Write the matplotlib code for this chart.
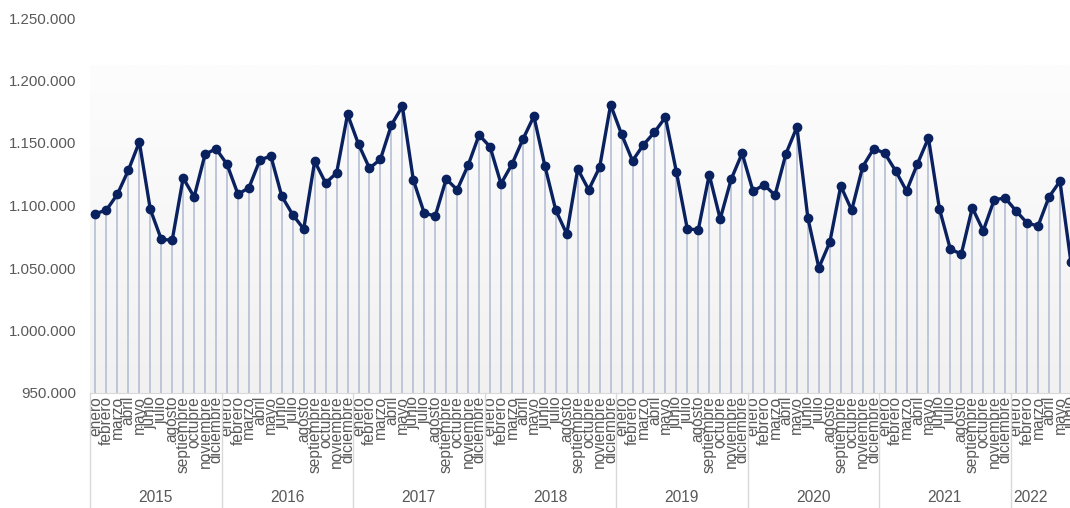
import matplotlib
matplotlib.use("Agg")
import matplotlib.pyplot as plt
import matplotlib.colors as mcolors
import matplotlib.ticker as mticker
import numpy as np

plt.rcParams['font.family'] = ['Liberation Sans', 'DejaVu Sans']

years = ['2015', '2016', '2017', '2018', '2019', '2020', '2021', '2022']
months = ['enero', 'febrero', 'marzo', 'abril', 'mayo', 'junio', 'julio',
          'agosto', 'septiembre', 'octubre', 'noviembre', 'diciembre']

values = [
    # 2015
    1093400, 1096400, 1109000, 1128200, 1150800, 1097000,
    1073000, 1072200, 1122000, 1106800, 1141000, 1145400,
    # 2016
    1133000, 1109000, 1114200, 1136400, 1139600, 1107400,
    1092600, 1081200, 1135400, 1118000, 1126000, 1173000,
    # 2017
    1149000, 1129800, 1137000, 1164400, 1179400, 1120400,
    1093800, 1091600, 1121200, 1112600, 1132200, 1156400,
    # 2018
    1147000, 1117400, 1133000, 1153000, 1171400, 1131800,
    1096200, 1077200, 1129200, 1112600, 1130600, 1180600,
    # 2019
    1157000, 1135800, 1148600, 1158600, 1170600, 1127000,
    1081200, 1080600, 1124600, 1089200, 1121000, 1141800,
    # 2020
    1111400, 1116600, 1108200, 1141400, 1162800, 1090000,
    1050200, 1070600, 1115600, 1096200, 1131000, 1145400,
    # 2021
    1142000, 1127800, 1111600, 1133400, 1154000, 1097400,
    1065000, 1061200, 1098200, 1079800, 1104600, 1106000,
    # 2022
    1095600, 1086000, 1083600, 1106800, 1119400, 1054800,
]

labels = [months[i % 12] for i in range(len(values))]
x = np.arange(len(values))

W, H = 1070, 508
fig = plt.figure(figsize=(W / 100, H / 100), dpi=100)
unit = 10.96
ax = fig.add_axes([90 / W, 115 / H, unit * 90 / W, 375 / H])

ymin, ymax = 950000, 1250000
grey_txt = '#595959'

# gradient plot background
grad = mcolors.LinearSegmentedColormap.from_list('bg', ['#f1f1f1', '#fdfdfd'])
ax.imshow(np.linspace(0, 1, 256).reshape(-1, 1), extent=[-0.5, 89.5, ymin, 1212000],
          origin='lower', aspect='auto', cmap=grad, zorder=0)

ax.vlines(x, ymin, values, color='#b5bed5', lw=1.2, zorder=1)
ax.plot(x, values, color='#0a2160', lw=2.4, marker='o', ms=6, zorder=3,
        solid_joinstyle='round')

ax.set_xlim(-0.5, 89.5)
ax.set_ylim(ymin, ymax)
ax.set_yticks(np.arange(ymin, ymax + 1, 50000))
ax.yaxis.set_major_formatter(mticker.FuncFormatter(lambda v, p: f'{int(v):,}'.replace(',', '.')))
ax.tick_params(axis='y', length=0, pad=10, labelsize=10.8, labelcolor=grey_txt)

ax.set_xticks(x)
ax.set_xticklabels(labels, rotation=90, fontsize=11.2, color=grey_txt)
ax.tick_params(axis='x', length=0, pad=2)

for s in ['top', 'right', 'left']:
    ax.spines[s].set_visible(False)
ax.spines['bottom'].set_color('#d9d9d9')

# year groups
trans = ax.get_xaxis_transform()
bottom = -115 / 375
for k in range(len(years) + 1):
    xb = -0.5 + 12 * k
    ax.plot([xb, xb], [0, bottom], transform=trans, color='#d9d9d9', lw=1, clip_on=False)
for k, yr in enumerate(years):
    xc = 12 * k + 5.5
    if k == len(years) - 1:
        xc = 85.3
    ax.text(xc, -104 / 375, yr, transform=trans, ha='center', va='center',
            fontsize=11.2, color=grey_txt)

fig.savefig('out.png', dpi=100)
